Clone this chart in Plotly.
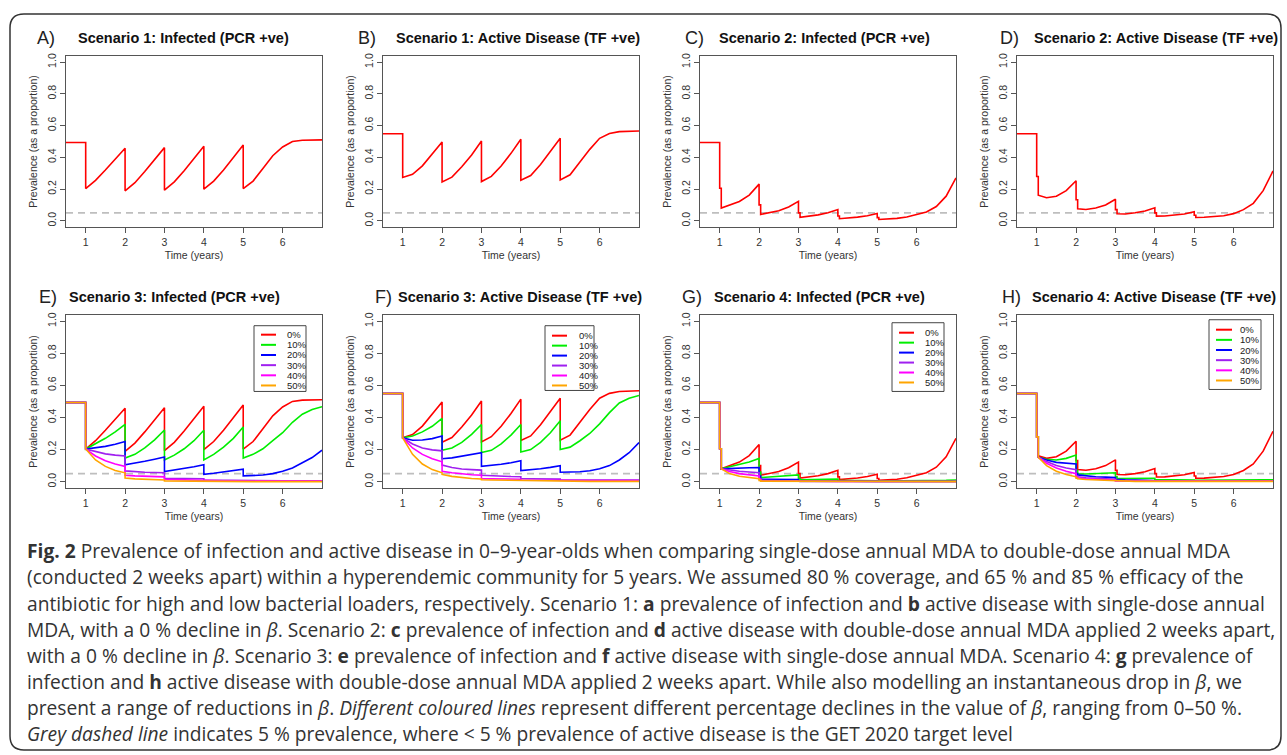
import plotly.graph_objects as go

W, H = 1287, 755

# ---------------- data ----------------
# time grids (years); repeated times mark the instantaneous MDA drops
t_single = [0.5, 1.0, 1.0, 1.25, 1.5, 1.75, 2.0, 2.0, 2.25, 2.5, 2.75, 3.0, 3.0, 3.25, 3.5, 3.75,
            4.0, 4.0, 4.25, 4.5, 4.75, 5.0, 5.0, 5.25, 5.5, 5.75, 6.0, 6.25, 6.5, 6.75, 7.0]
t_double = [0.5, 1.0, 1.0, 1.04, 1.04, 1.25, 1.5, 1.75, 2.0, 2.0, 2.04, 2.04, 2.25, 2.5, 2.75,
            3.0, 3.0, 3.04, 3.04, 3.25, 3.5, 3.75, 4.0, 4.0, 4.04, 4.04, 4.25, 4.5, 4.75,
            5.0, 5.0, 5.04, 5.04, 5.25, 5.5, 5.75, 6.0, 6.25, 6.5, 6.75, 7.0]

beta_labels = ["0%", "10%", "20%", "30%", "40%", "50%"]
target_level = 0.05

# Scenario 1 (single dose, 0% decline)
s1_infected = [0.493, 0.493, 0.203, 0.255, 0.320, 0.390, 0.457, 0.189, 0.240, 0.310, 0.385, 0.461,
               0.193, 0.245, 0.315, 0.390, 0.470, 0.199, 0.250, 0.320, 0.400, 0.478, 0.203, 0.250,
               0.330, 0.410, 0.465, 0.500, 0.508, 0.510, 0.510]
s1_active = [0.549, 0.549, 0.273, 0.293, 0.346, 0.420, 0.497, 0.245, 0.275, 0.340, 0.415, 0.503,
             0.247, 0.280, 0.345, 0.425, 0.514, 0.256, 0.285, 0.355, 0.435, 0.520, 0.258, 0.290,
             0.370, 0.450, 0.520, 0.550, 0.562, 0.566, 0.566]

# Scenario 2 (double dose, 0% decline)
s2_infected = [0.493, 0.493, 0.205, 0.205, 0.080, 0.097, 0.122, 0.162, 0.231, 0.100, 0.100, 0.040,
               0.050, 0.063, 0.087, 0.122, 0.050, 0.050, 0.022, 0.028, 0.037, 0.050, 0.071, 0.030,
               0.030, 0.013, 0.017, 0.023, 0.032, 0.046, 0.020, 0.020, 0.008, 0.011, 0.015, 0.024,
               0.040, 0.055, 0.090, 0.155, 0.270]
s2_active = [0.549, 0.549, 0.279, 0.279, 0.161, 0.145, 0.155, 0.190, 0.252, 0.132, 0.132, 0.075,
             0.071, 0.080, 0.100, 0.136, 0.070, 0.070, 0.044, 0.043, 0.050, 0.062, 0.082, 0.050,
             0.050, 0.029, 0.030, 0.035, 0.043, 0.057, 0.035, 0.035, 0.021, 0.022, 0.025, 0.032,
             0.045, 0.070, 0.110, 0.190, 0.314]

# Scenario 3 (single dose, beta declines 0-50%) - infected
s3_inf_0 = s1_infected
s3_inf_10 = [0.493, 0.493, 0.203, 0.235, 0.270, 0.310, 0.357, 0.147, 0.170, 0.210, 0.260, 0.322,
             0.135, 0.165, 0.205, 0.255, 0.320, 0.135, 0.170, 0.215, 0.270, 0.341, 0.147, 0.170,
             0.205, 0.255, 0.305, 0.370, 0.420, 0.450, 0.467]
s3_inf_20 = [0.493, 0.493, 0.203, 0.210, 0.220, 0.233, 0.250, 0.105, 0.115, 0.127, 0.140, 0.154,
             0.063, 0.072, 0.082, 0.093, 0.105, 0.046, 0.052, 0.060, 0.068, 0.078, 0.036, 0.037,
             0.041, 0.050, 0.065, 0.085, 0.115, 0.150, 0.196]
s3_inf_30 = [0.493, 0.493, 0.203, 0.186, 0.173, 0.165, 0.160, 0.067, 0.062, 0.059, 0.057, 0.055,
             0.021, 0.020, 0.019, 0.018, 0.018, 0.010, 0.009, 0.009, 0.008, 0.008, 0.005, 0.005,
             0.005, 0.005, 0.005, 0.005, 0.005, 0.005, 0.005]
s3_inf_40 = [0.493, 0.493, 0.203, 0.160, 0.130, 0.110, 0.095, 0.040, 0.036, 0.033, 0.031, 0.030,
             0.015, 0.013, 0.012, 0.011, 0.010, 0.006, 0.005, 0.005, 0.005, 0.005, 0.003, 0.003,
             0.003, 0.003, 0.003, 0.003, 0.003, 0.003, 0.003]
s3_inf_50 = [0.493, 0.493, 0.203, 0.135, 0.095, 0.070, 0.055, 0.022, 0.017, 0.014, 0.012, 0.010,
             0.005, 0.004, 0.004, 0.003, 0.003, 0.002, 0.001, 0.001, 0.001, 0.001, 0.000, 0.000,
             0.000, 0.000, 0.000, 0.000, 0.000, 0.000, 0.000]

# Scenario 3 - active disease
s3_act_0 = s1_active
s3_act_10 = [0.549, 0.549, 0.273, 0.285, 0.310, 0.345, 0.394, 0.196, 0.210, 0.245, 0.295, 0.356,
             0.181, 0.195, 0.235, 0.290, 0.356, 0.185, 0.200, 0.245, 0.305, 0.379, 0.200, 0.215,
             0.255, 0.300, 0.360, 0.430, 0.490, 0.520, 0.537]
s3_act_20 = [0.549, 0.549, 0.273, 0.258, 0.260, 0.268, 0.284, 0.143, 0.148, 0.158, 0.168, 0.181,
             0.095, 0.100, 0.108, 0.118, 0.130, 0.069, 0.073, 0.080, 0.089, 0.100, 0.059, 0.059,
             0.062, 0.068, 0.080, 0.100, 0.135, 0.180, 0.244]
s3_act_30 = [0.549, 0.549, 0.273, 0.235, 0.210, 0.198, 0.192, 0.103, 0.088, 0.079, 0.075, 0.072,
             0.040, 0.036, 0.034, 0.032, 0.031, 0.020, 0.018, 0.017, 0.016, 0.016, 0.011, 0.010,
             0.010, 0.010, 0.010, 0.010, 0.010, 0.010, 0.010]
s3_act_40 = [0.549, 0.549, 0.273, 0.210, 0.170, 0.143, 0.124, 0.065, 0.055, 0.048, 0.043, 0.040,
             0.020, 0.018, 0.017, 0.016, 0.015, 0.010, 0.009, 0.009, 0.008, 0.008, 0.007, 0.007,
             0.007, 0.007, 0.007, 0.007, 0.007, 0.007, 0.007]
s3_act_50 = [0.549, 0.549, 0.273, 0.170, 0.110, 0.075, 0.055, 0.045, 0.033, 0.025, 0.020, 0.017,
             0.012, 0.010, 0.009, 0.008, 0.007, 0.005, 0.004, 0.004, 0.003, 0.003, 0.002, 0.002,
             0.002, 0.002, 0.002, 0.002, 0.002, 0.002, 0.002]

# Scenario 4 (double dose, beta declines 0-50%) - infected
s4_inf_0 = s2_infected
s4_inf_10 = [0.493, 0.493, 0.205, 0.205, 0.080, 0.092, 0.105, 0.122, 0.145, 0.060, 0.060, 0.025,
             0.029, 0.033, 0.037, 0.042, 0.020, 0.020, 0.012, 0.013, 0.014, 0.015, 0.016, 0.009,
             0.009, 0.006, 0.006, 0.006, 0.007, 0.007, 0.005, 0.005, 0.004, 0.004, 0.004, 0.004,
             0.005, 0.006, 0.007, 0.008, 0.010]
s4_inf_20 = [0.493, 0.493, 0.205, 0.205, 0.080, 0.083, 0.085, 0.087, 0.088, 0.035, 0.035, 0.015,
             0.014, 0.014, 0.013, 0.013, 0.006, 0.006, 0.004, 0.004, 0.004, 0.004, 0.003, 0.002,
             0.002, 0.002, 0.002, 0.002, 0.002, 0.002, 0.001, 0.001, 0.001, 0.001, 0.001, 0.001,
             0.001, 0.001, 0.001, 0.001, 0.001]
s4_inf_30 = [0.493, 0.493, 0.205, 0.205, 0.080, 0.072, 0.065, 0.060, 0.055, 0.020, 0.020, 0.009,
             0.008, 0.008, 0.007, 0.007, 0.003, 0.003, 0.002, 0.002, 0.002, 0.002, 0.002, 0.002,
             0.002, 0.002, 0.002, 0.002, 0.002, 0.002, 0.001, 0.001, 0.001, 0.001, 0.001, 0.001,
             0.001, 0.001, 0.001, 0.001, 0.001]
s4_inf_40 = [0.493, 0.493, 0.205, 0.205, 0.080, 0.063, 0.050, 0.041, 0.035, 0.015, 0.015, 0.006,
             0.005, 0.005, 0.004, 0.004, 0.002, 0.002, 0.001, 0.001, 0.001, 0.001, 0.001, 0.001,
             0.001, 0.001, 0.001, 0.001, 0.001, 0.001, 0.001, 0.001, 0.001, 0.001, 0.001, 0.001,
             0.001, 0.001, 0.001, 0.001, 0.001]
s4_inf_50 = [0.493, 0.493, 0.205, 0.205, 0.080, 0.050, 0.034, 0.025, 0.019, 0.008, 0.008, 0.003,
             0.003, 0.002, 0.002, 0.002, 0.000, 0.000, 0.000, 0.000, 0.000, 0.000, 0.000, 0.000,
             0.000, 0.000, 0.000, 0.000, 0.000, 0.000, 0.000, 0.000, 0.000, 0.000, 0.000, 0.000,
             0.000, 0.000, 0.000, 0.000, 0.000]

# Scenario 4 - active disease
s4_act_0 = s2_active
s4_act_10 = [0.549, 0.549, 0.279, 0.279, 0.152, 0.140, 0.135, 0.145, 0.166, 0.070, 0.070, 0.048,
             0.048, 0.050, 0.052, 0.055, 0.030, 0.030, 0.020, 0.020, 0.020, 0.021, 0.021, 0.013,
             0.013, 0.010, 0.010, 0.010, 0.010, 0.010, 0.008, 0.008, 0.007, 0.007, 0.007, 0.008,
             0.008, 0.009, 0.010, 0.011, 0.012]
s4_act_20 = [0.549, 0.549, 0.279, 0.279, 0.152, 0.135, 0.120, 0.113, 0.110, 0.050, 0.050, 0.042,
             0.036, 0.031, 0.028, 0.025, 0.015, 0.015, 0.012, 0.011, 0.010, 0.010, 0.009, 0.006,
             0.006, 0.005, 0.005, 0.005, 0.004, 0.004, 0.003, 0.003, 0.003, 0.003, 0.003, 0.003,
             0.003, 0.003, 0.003, 0.003, 0.003]
s4_act_30 = [0.549, 0.549, 0.279, 0.279, 0.152, 0.125, 0.100, 0.085, 0.075, 0.035, 0.035, 0.030,
             0.024, 0.020, 0.017, 0.015, 0.008, 0.008, 0.006, 0.006, 0.005, 0.005, 0.005, 0.003,
             0.003, 0.003, 0.003, 0.003, 0.003, 0.003, 0.003, 0.003, 0.003, 0.003, 0.003, 0.003,
             0.003, 0.003, 0.003, 0.003, 0.003]
s4_act_40 = [0.549, 0.549, 0.279, 0.279, 0.152, 0.115, 0.085, 0.065, 0.050, 0.028, 0.028, 0.024,
             0.018, 0.014, 0.012, 0.010, 0.005, 0.005, 0.004, 0.003, 0.003, 0.003, 0.003, 0.003,
             0.003, 0.003, 0.003, 0.003, 0.003, 0.003, 0.003, 0.003, 0.003, 0.003, 0.003, 0.003,
             0.003, 0.003, 0.003, 0.003, 0.003]
s4_act_50 = [0.549, 0.549, 0.279, 0.279, 0.152, 0.100, 0.065, 0.045, 0.030, 0.022, 0.022, 0.018,
             0.013, 0.010, 0.008, 0.006, 0.004, 0.004, 0.003, 0.002, 0.002, 0.002, 0.002, 0.002,
             0.002, 0.002, 0.002, 0.002, 0.002, 0.002, 0.002, 0.002, 0.002, 0.002, 0.002, 0.002,
             0.002, 0.002, 0.002, 0.002, 0.002]

panel_letters = ["A)", "B)", "C)", "D)", "E)", "F)", "G)", "H)"]
panel_titles = ["Scenario 1: Infected (PCR +ve)", "Scenario 1: Active Disease (TF +ve)",
                "Scenario 2: Infected (PCR +ve)", "Scenario 2: Active Disease (TF +ve)",
                "Scenario 3: Infected (PCR +ve)", "Scenario 3: Active Disease (TF +ve)",
                "Scenario 4: Infected (PCR +ve)", "Scenario 4: Active Disease (TF +ve)"]
x_ticks = [1, 2, 3, 4, 5, 6]
y_ticks = [0.0, 0.2, 0.4, 0.6, 0.8, 1.0]

panel_series = [
    (t_single, [s1_infected]),
    (t_single, [s1_active]),
    (t_double, [s2_infected]),
    (t_double, [s2_active]),
    (t_single, [s3_inf_0, s3_inf_10, s3_inf_20, s3_inf_30, s3_inf_40, s3_inf_50]),
    (t_single, [s3_act_0, s3_act_10, s3_act_20, s3_act_30, s3_act_40, s3_act_50]),
    (t_double, [s4_inf_0, s4_inf_10, s4_inf_20, s4_inf_30, s4_inf_40, s4_inf_50]),
    (t_double, [s4_act_0, s4_act_10, s4_act_20, s4_act_30, s4_act_40, s4_act_50]),
]

caption_lines = [
    "<b>Fig. 2</b> Prevalence of infection and active disease in 0–9-year-olds when comparing single-dose annual MDA to double-dose annual MDA",
    "(conducted 2 weeks apart) within a hyperendemic community for 5 years. We assumed 80 % coverage, and 65 % and 85 % efficacy of the",
    "antibiotic for high and low bacterial loaders, respectively. Scenario 1: <b>a</b> prevalence of infection and <b>b</b> active disease with single-dose annual",
    "MDA, with a 0 % decline in <i>β</i>. Scenario 2: <b>c</b> prevalence of infection and <b>d</b> active disease with double-dose annual MDA applied 2 weeks apart,",
    "with a 0 % decline in <i>β</i>. Scenario 3: <b>e</b> prevalence of infection and <b>f</b> active disease with single-dose annual MDA. Scenario 4: <b>g</b> prevalence of",
    "infection and <b>h</b> active disease with double-dose annual MDA applied 2 weeks apart. While also modelling an instantaneous drop in <i>β</i>, we",
    "present a range of reductions in <i>β</i>. <i>Different coloured lines</i> represent different percentage declines in the value of <i>β</i>, ranging from 0–50 %.",
    "<i>Grey dashed line</i> indicates 5 % prevalence, where &lt; 5 % prevalence of active disease is the GET 2020 target level",
]

# ---------------- styling / layout ----------------
colors = ["#FF0000", "#00EE00", "#0000FF", "#A020F0", "#FF00FF", "#FFA500"]

# plot boxes in pixels (left, top, right, bottom)
boxes = [(66, 53, 322, 225), (383, 53, 639, 225), (700, 53, 956, 225), (1017, 53, 1273, 225),
         (66, 313, 322, 487), (383, 313, 639, 487), (700, 313, 956, 487), (1017, 313, 1273, 487)]
# title positions: (letter x, title x, y)
title_pos = [(35, 76, 35), (356, 394, 35), (683, 717, 35), (998, 1032, 35),
             (37, 67, 295), (373, 396, 295), (680, 712, 295), (1000, 1030, 295)]
# legend geometry relative to plot box (px): box l, r, top, bottom, line x0, x1, text x, first item y, step
legend_geo = {4: (188, 240, 11, 77, 195, 210, 219, 20, 10.2),
              5: (162, 211, 11, 76, 169, 184, 194, 21, 10.0),
              6: (192, 244, 8, 77, 199, 214, 223, 18, 10.0),
              7: (192, 244, 5, 75, 199, 215, 221, 15, 10.2)}

def px(x):
    return x / W

def py(y):
    return 1 - y / H

fig = go.Figure()
layout = dict(width=W, height=H, margin=dict(l=0, r=0, t=0, b=0),
              paper_bgcolor="white", plot_bgcolor="white", showlegend=False,
              font=dict(family="Liberation Sans, Arial, sans-serif", color="#222"))
shapes = []
annotations = []

axis_common = dict(showline=True, mirror=True, linecolor="#555", linewidth=1,
                   ticks="outside", ticklen=5, tickcolor="#555", tickwidth=1,
                   showgrid=False, zeroline=False,
                   tickfont=dict(size=10.5, color="#333"))

for i in range(8):
    n = i + 1
    xa = "x" if n == 1 else f"x{n}"
    ya = "y" if n == 1 else f"y{n}"
    l, t, r, b = boxes[i]
    layout["xaxis" if n == 1 else f"xaxis{n}"] = dict(
        domain=[px(l), px(r)], range=[0.5, 7.0], anchor=ya,
        tickmode="array", tickvals=x_ticks, ticktext=[str(v) for v in x_ticks],
        title=dict(text="Time (years)", font=dict(size=10.5, color="#333"), standoff=4),
        **axis_common)
    layout["yaxis" if n == 1 else f"yaxis{n}"] = dict(
        domain=[py(b), py(t)], range=[-0.04, 1.04], anchor=xa,
        tickmode="array", tickvals=y_ticks, ticktext=[f"{v:.1f}" for v in y_ticks],
        tickangle=-90,
        title=dict(text="Prevalence (as a proportion)", font=dict(size=10.5, color="#333"), standoff=6),
        **axis_common)

    tgrid, series = panel_series[i]
    # 5% target line
    fig.add_trace(go.Scatter(x=[0.5, 7.0], y=[target_level, target_level], mode="lines",
                             line=dict(color="#BEBEBE", width=1.6, dash="7px,5px"),
                             xaxis=xa, yaxis=ya, hoverinfo="skip"))
    for k, vals in enumerate(series):
        fig.add_trace(go.Scatter(x=tgrid, y=vals, mode="lines",
                                 line=dict(color=colors[k], width=1.6),
                                 name=beta_labels[k], xaxis=xa, yaxis=ya))

    lx, tx, ty = title_pos[i]
    annotations.append(dict(text=panel_letters[i], x=px(lx), y=py(ty), xref="paper", yref="paper",
                            xanchor="left", yanchor="middle", showarrow=False,
                            font=dict(size=18, color="#222")))
    annotations.append(dict(text=f"<b>{panel_titles[i]}</b>", x=px(tx), y=py(ty), xref="paper",
                            yref="paper", xanchor="left", yanchor="middle", showarrow=False,
                            font=dict(size=14.5, color="#111")))

    if i in legend_geo:
        bl, br, bt, bb, lx0, lx1, txl, fy, step = legend_geo[i]
        wbox, hbox = r - l, b - t
        xd, yd = f"{xa} domain", f"{ya} domain"
        shapes.append(dict(type="rect", xref=xd, yref=yd, x0=bl / wbox, x1=br / wbox,
                           y0=1 - bb / hbox, y1=1 - bt / hbox,
                           line=dict(color="#444", width=1), fillcolor="white"))
        for k, lab in enumerate(beta_labels):
            yy = 1 - (fy + k * step) / hbox
            shapes.append(dict(type="line", xref=xd, yref=yd, x0=lx0 / wbox, x1=lx1 / wbox,
                               y0=yy, y1=yy, line=dict(color=colors[k], width=2)))
            annotations.append(dict(text=lab, xref=xd, yref=yd, x=txl / wbox, y=yy,
                                    xanchor="left", yanchor="middle", showarrow=False,
                                    font=dict(size=9.5, color="#222")))

# caption
for j, line in enumerate(caption_lines):
    annotations.append(dict(text=line, x=px(25), y=py(550 + j * 26.2), xref="paper", yref="paper",
                            xanchor="left", yanchor="middle", showarrow=False,
                            font=dict(family="Open Sans, sans-serif", size=19.2, color="#333")))

# rounded outer frame
x0, y0, x1, y1, rr = 10, 11, 1281, 750, 14
path = (f"M {px(x0 + rr)},{py(y0)} L {px(x1 - rr)},{py(y0)} Q {px(x1)},{py(y0)} {px(x1)},{py(y0 + rr)} "
        f"L {px(x1)},{py(y1 - rr)} Q {px(x1)},{py(y1)} {px(x1 - rr)},{py(y1)} "
        f"L {px(x0 + rr)},{py(y1)} Q {px(x0)},{py(y1)} {px(x0)},{py(y1 - rr)} "
        f"L {px(x0)},{py(y0 + rr)} Q {px(x0)},{py(y0)} {px(x0 + rr)},{py(y0)} Z")
shapes.append(dict(type="path", xref="paper", yref="paper", path=path,
                   line=dict(color="#333", width=1.5), layer="below"))

layout["shapes"] = shapes
layout["annotations"] = annotations
fig.update_layout(**layout)
fig.write_html("out.html", config={"displayModeBar": False},
               post_script="document.body.style.margin='0';document.body.style.overflow='hidden';")
